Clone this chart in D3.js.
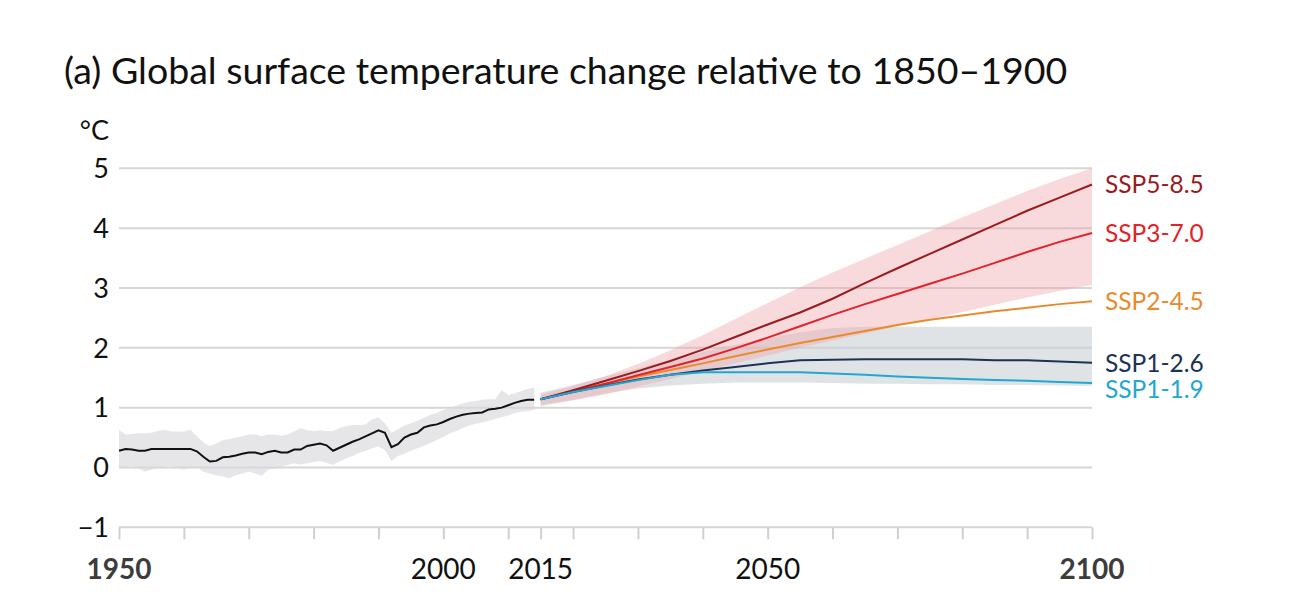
<!DOCTYPE html>
<html>
<head>
<meta charset="utf-8">
<script src="https://cdn.jsdelivr.net/npm/d3@7"></script>
<style>
  body { margin: 0; background: #fff; }
  text { font-family: Lato, "Open Sans", sans-serif; }
</style>
</head>
<body>
<div id="chart"></div>
<script>
// historical (observed) 1950-2014, annual
var histYears = d3.range(1950, 2015);
var histMean = [0.28,0.31,0.30,0.28,0.28,0.31,0.31,0.31,0.31,0.31,
  0.31,0.31,0.27,0.18,0.10,0.11,0.17,0.18,0.20,0.23,
  0.25,0.25,0.22,0.26,0.28,0.25,0.25,0.30,0.30,0.36,
  0.38,0.40,0.37,0.28,0.33,0.38,0.43,0.47,0.52,0.57,
  0.62,0.58,0.34,0.39,0.50,0.55,0.58,0.67,0.70,0.72,
  0.76,0.81,0.85,0.88,0.90,0.91,0.92,0.97,0.98,1.00,
  1.04,1.08,1.11,1.13,1.13];
var histHigh = [0.63,0.55,0.56,0.57,0.57,0.58,0.61,0.63,0.60,0.60,
  0.60,0.63,0.52,0.42,0.36,0.40,0.46,0.47,0.50,0.52,
  0.55,0.55,0.52,0.55,0.55,0.53,0.55,0.60,0.66,0.62,
  0.61,0.62,0.61,0.61,0.66,0.69,0.71,0.71,0.72,0.80,
  0.84,0.74,0.58,0.64,0.70,0.74,0.78,0.83,0.88,0.91,
  0.96,1.00,1.03,1.07,1.10,1.11,1.13,1.14,1.14,1.29,
  1.21,1.24,1.28,1.31,1.34];
var histLow = [-0.01,0.01,0.03,-0.02,-0.07,-0.04,-0.01,0.01,0.03,-0.01,
  -0.04,0.00,0.01,-0.07,-0.10,-0.13,-0.15,-0.18,-0.13,-0.10,
  -0.07,-0.10,-0.14,-0.04,-0.02,0.01,0.04,0.07,0.05,0.07,
  0.09,0.11,0.08,0.04,0.10,0.15,0.19,0.24,0.28,0.32,
  0.35,0.29,0.11,0.19,0.23,0.28,0.32,0.36,0.41,0.46,
  0.51,0.57,0.61,0.66,0.70,0.73,0.75,0.78,0.81,0.84,
  0.87,0.91,0.93,0.94,0.97];

// projections 2015-2100
var projYears = d3.range(2015, 2101, 5);
var ssp119 = [1.14,1.26,1.36,1.46,1.55,1.59,1.59,1.59,1.59,1.57,1.55,1.52,1.50,1.48,1.46,1.45,1.43,1.41];
var ssp126 = [1.14,1.26,1.37,1.47,1.55,1.62,1.68,1.74,1.79,1.80,1.81,1.81,1.81,1.81,1.79,1.79,1.77,1.75];
var ssp245 = [1.14,1.27,1.40,1.52,1.63,1.74,1.86,1.97,2.08,2.18,2.28,2.38,2.47,2.54,2.61,2.67,2.73,2.78];
var ssp370 = [1.14,1.27,1.40,1.54,1.68,1.82,1.99,2.17,2.36,2.55,2.73,2.90,3.07,3.24,3.42,3.60,3.77,3.92];
var ssp585 = [1.14,1.29,1.45,1.61,1.78,1.97,2.18,2.39,2.59,2.82,3.08,3.33,3.57,3.81,4.05,4.29,4.51,4.73];

// likely ranges
var range126Low  = [1.02,1.13,1.24,1.32,1.37,1.40,1.42,1.42,1.42,1.41,1.40,1.40,1.39,1.39,1.38,1.38,1.37,1.36];
var range126High = [1.25,1.38,1.52,1.66,1.80,1.93,2.05,2.16,2.26,2.33,2.35,2.35,2.35,2.35,2.35,2.35,2.35,2.35];
var range370Low  = [1.05,1.12,1.22,1.35,1.48,1.61,1.74,1.87,2.00,2.12,2.24,2.36,2.48,2.60,2.72,2.84,2.95,3.05];
var range370High = [1.22,1.36,1.53,1.73,1.96,2.21,2.48,2.75,3.01,3.26,3.49,3.72,3.95,4.18,4.40,4.62,4.82,5.00];

var scenarioNames = ["SSP5-8.5", "SSP3-7.0", "SSP2-4.5", "SSP1-2.6", "SSP1-1.9"];
var scenarioValues = [ssp585, ssp370, ssp245, ssp126, ssp119];
var scenarioColors = ["#9a1b1f", "#e3222a", "#e98a2d", "#1c3356", "#22a7d3"];

var yTicks = [-1, 0, 1, 2, 3, 4, 5];
var xTicks = [1950,1960,1970,1980,1990,2000,2010,2015,2020,2030,2040,2050,2060,2070,2080,2090,2100];
var xLabels = [1950, 2000, 2015, 2050, 2100];
var xBold = [1950, 2100];

var W = 1310, H = 614;
var svg = d3.select("#chart").append("svg")
    .attr("width", W)
    .attr("height", H);

var x = d3.scaleLinear().domain([1950, 2100]).range([119, 1092]);
var y = d3.scaleLinear().domain([-1, 5]).range([527.3, 168.3]);

// title
svg.append("text")
    .attr("x", 64).attr("y", 84)
    .attr("font-size", 37.5)
    .attr("fill", "#111")
    .text("(a) Global surface temperature change relative to 1850–1900");

svg.append("text")
    .attr("x", 109).attr("y", 140)
    .attr("text-anchor", "end")
    .attr("font-size", 27)
    .attr("fill", "#111")
    .text("°C");

// gridlines
svg.append("g")
    .attr("class", "grid")
    .selectAll("line")
    .data(yTicks)
    .join("line")
    .attr("x1", x(1950)).attr("x2", x(2100))
    .attr("y1", d => y(d)).attr("y2", d => y(d))
    .attr("stroke", "#d6d6d6")
    .attr("stroke-width", 2);

// y labels
svg.append("g")
    .selectAll("text")
    .data(yTicks)
    .join("text")
    .attr("x", 109)
    .attr("y", d => y(d))
    .attr("dy", "0.36em")
    .attr("text-anchor", "end")
    .attr("font-size", 27)
    .attr("fill", "#111")
    .text(d => d3.format("d")(d));

// x axis ticks
var xAxis = d3.axisBottom(x).tickValues(xTicks).tickSize(12).tickFormat("");
var gx = svg.append("g")
    .attr("transform", "translate(0," + y(-1) + ")")
    .call(xAxis);
gx.select(".domain").remove();
gx.selectAll(".tick line").attr("stroke", "#d0d0d0").attr("stroke-width", 2);

svg.append("g")
    .selectAll("text")
    .data(xLabels)
    .join("text")
    .attr("x", d => x(d))
    .attr("y", 579)
    .attr("text-anchor", "middle")
    .attr("font-size", 28)
    .attr("font-weight", d => xBold.includes(d) ? "bold" : "normal")
    .attr("fill", d => xBold.includes(d) ? "#3c3c3c" : "#111")
    .text(d => d);

// bands
var area = d3.area()
    .x(d => x(d[0]))
    .y0(d => y(d[1]))
    .y1(d => y(d[2]));

svg.append("path")
    .datum(histYears.map((yr, i) => [yr, histLow[i], histHigh[i]]))
    .attr("d", area)
    .attr("fill", "#d8d8dc")
    .attr("fill-opacity", 0.65);

svg.append("path")
    .datum(projYears.map((yr, i) => [yr, range126Low[i], range126High[i]]))
    .attr("d", area)
    .attr("fill", "#ccd1d6")
    .attr("fill-opacity", 0.6);

svg.append("path")
    .datum(projYears.map((yr, i) => [yr, range370Low[i], range370High[i]]))
    .attr("d", area)
    .attr("fill", "#f0a3a8")
    .attr("fill-opacity", 0.4);

// lines
var line = d3.line()
    .x(d => x(d[0]))
    .y(d => y(d[1]));

svg.append("path")
    .datum(histYears.map((yr, i) => [yr, histMean[i]]))
    .attr("d", line)
    .attr("fill", "none")
    .attr("stroke", "#111")
    .attr("stroke-width", 2);

// low scenarios last so they sit on top
var order = [2, 1, 0, 3, 4];
order.forEach(function(k) {
  svg.append("path")
      .datum(projYears.map((yr, i) => [yr, scenarioValues[k][i]]))
      .attr("d", line)
      .attr("fill", "none")
      .attr("stroke", scenarioColors[k])
      .attr("stroke-width", 2);
});

// end labels, pushed apart where they collide
var labelY = scenarioValues.map(v => y(v[v.length - 1]));
for (var i = 1; i < labelY.length; i++) {
  if (labelY[i] - labelY[i - 1] < 26.5) labelY[i] = labelY[i - 1] + 26.5;
}
svg.append("g")
    .selectAll("text")
    .data(scenarioNames)
    .join("text")
    .attr("x", 1105)
    .attr("y", (d, i) => labelY[i])
    .attr("dy", "0.36em")
    .attr("font-size", 24.5)
    .attr("fill", (d, i) => scenarioColors[i])
    .text(d => d);
</script>
</body>
</html>
